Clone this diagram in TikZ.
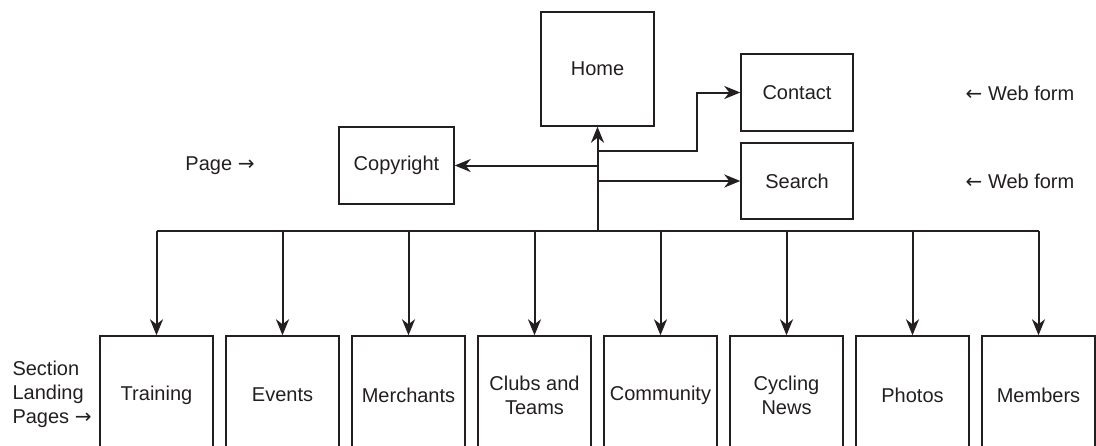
\documentclass[tikz,border=0pt]{standalone}
\usepackage{fontspec}
\setmainfont{Liberation Sans}
\newfontfamily\arrowfont{DejaVu Sans}
\usepackage{xcolor}
\usetikzlibrary{arrows.meta,positioning}
\definecolor{ink}{HTML}{231F20}
\newcommand{\ra}{{\arrowfont\char"2192}}
\newcommand{\la}{{\arrowfont\char"2190}}

\begin{document}
\begin{tikzpicture}[x=1pt,y=-1pt,
    every node/.style={font=\fontsize{20}{24}\selectfont, text=ink},
    page/.style={draw=ink, line width=1.4pt, align=center, inner sep=0pt},
    section/.style={page, minimum width=113pt, minimum height=118pt},
    link/.style={draw=ink, line width=2pt, -{Stealth[length=16pt,width=13pt,inset=5pt]}},
    bus/.style={draw=ink, line width=2pt}]
  \useasboundingbox (0,0) rectangle (1096,445);
  \clip (0,0) rectangle (1096,445);

  \node[page, minimum width=113pt, minimum height=114pt] (home) at (597.5,69) {Home};
  \node[page, minimum width=112pt, minimum height=77pt] (contact) at (797,92.5) {Contact};
  \node[page, minimum width=112pt, minimum height=76pt] (search) at (797,181) {Search};
  \node[page, minimum width=115pt, minimum height=77pt] (copyright) at (396.5,165.5) {Copyright};

  \node (pagelbl) at (220,166) {Page \ra};
  \node (formc) at (1020,93) {\la\ Web form};
  \node (forms) at (1020,181) {\la\ Web form};
  \node[anchor=west, align=left] (sectionlbl) at (9,394) {Section\\Landing\\Pages \ra};

  \node[section] (training) at (156.5,395) {Training};
  \node[section, right=11.6pt of training] (events) {Events};
  \node[section, right=11.6pt of events] (merchants) {Merchants};
  \node[section, right=11.6pt of merchants] (clubs) {Clubs and\\Teams};
  \node[section, right=11.6pt of clubs] (community) {Community};
  \node[section, right=11.6pt of community] (news) {Cycling\\News};
  \node[section, right=11.6pt of news] (photos) {Photos};
  \node[section, right=11.6pt of photos] (members) {Members};

  \coordinate (hub) at (home.south |- 0,231);
  \coordinate (tocontact) at (home.south |- 0,151);
  \coordinate (tocopy) at (home.south |- copyright.east);
  \coordinate (tosearch) at (home.south |- search.west);

  \draw[link] (hub) -- (home.south);
  \draw[link] (tocontact) -| ([xshift=-43pt]contact.west) -- (contact.west);
  \draw[link] (tocopy) -- (copyright.east);
  \draw[link] (tosearch) -- (search.west);

  \draw[bus] (training.north |- hub) -- (members.north |- hub);
  \foreach \s in {training,events,merchants,clubs,community,news,photos,members}
    \draw[link] (\s.north |- hub) -- (\s.north);
\end{tikzpicture}
\end{document}
